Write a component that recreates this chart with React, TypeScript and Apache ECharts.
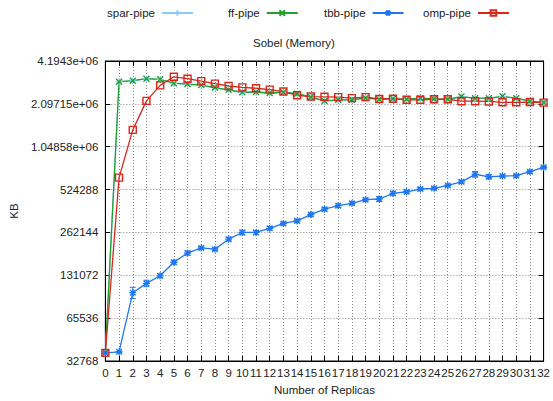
import React, { useEffect, useRef } from "react";
import * as echarts from "echarts";

const replicas = Array.from({ length: 33 }, (_, i) => String(i));

const sparPipe = [37400, 2990000, 3040000, 3140000, 3110000, 2920000, 2880000, 2830000, 2720000, 2620000, 2520000, 2530000, 2490000, 2520000, 2460000, 2330000, 2200000, 2230000, 2230000, 2300000, 2250000, 2270000, 2250000, 2290000, 2260000, 2250000, 2350000, 2290000, 2290000, 2360000, 2290000, 2180000, 2140000];
const ffPipe = [37400, 3000000, 3050000, 3150000, 3120000, 2930000, 2890000, 2840000, 2730000, 2630000, 2530000, 2540000, 2500000, 2530000, 2470000, 2340000, 2200000, 2240000, 2240000, 2310000, 2260000, 2280000, 2260000, 2300000, 2270000, 2260000, 2360000, 2300000, 2300000, 2370000, 2300000, 2190000, 2140000];
const tbbPipe = [37400, 38000, 98900, 115000, 130000, 161800, 187800, 204000, 200000, 235000, 262000, 262000, 280000, 303000, 316000, 350000, 382000, 404000, 420000, 445000, 450000, 493000, 506000, 529000, 535000, 561000, 594000, 671000, 645000, 652000, 656000, 700000, 752000];
const tbbErr = [300, 400, 9000, 6000, 4000, 5000, 6000, 5000, 4000, 7000, 10000, 8000, 8000, 7000, 7000, 9000, 10000, 12000, 10000, 10000, 18000, 14000, 10000, 12000, 10000, 12000, 16000, 30000, 22000, 12000, 14000, 16000, 14000];
const ompPipe = [37400, 636000, 1376000, 2200000, 2830000, 3250000, 3150000, 3030000, 2910000, 2800000, 2740000, 2700000, 2640000, 2560000, 2410000, 2360000, 2350000, 2340000, 2300000, 2340000, 2270000, 2280000, 2240000, 2240000, 2260000, 2260000, 2190000, 2190000, 2180000, 2150000, 2150000, 2160000, 2140000];

const seriesNames = ["spar-pipe", "ff-pipe", "tbb-pipe", "omp-pipe"];

const yTickLabels: Record<number, string> = {
  32768: "32768",
  65536: "65536",
  131072: "131072",
  262144: "262144",
  524288: "524288",
  1048576: "1.04858e+06",
  2097152: "2.09715e+06",
  4194304: "4.1943e+06",
};

const FONT = "Liberation Sans, Arial, sans-serif";
const plusPath = "path://M0,5L10,5M5,0L5,10";
const xPath = "path://M0,0L10,10M10,0L0,10";
const starPath = "path://M0,5L10,5M5,0L5,10M1,1L9,9M9,1L1,9";

export default function App() {
  const ref = useRef<HTMLDivElement>(null);
  useEffect(() => {
    if (!ref.current) return;
    const chart = echarts.init(ref.current, undefined, { renderer: "svg" });
    const gridLine = { show: true, lineStyle: { color: "#888", type: [1, 2] as any, width: 1 } };
    const errData = tbbPipe.map((v, i) => [i, v - tbbErr[i], v + tbbErr[i]]);
    const legendLefts = [107, 228, 324, 423];
    chart.setOption({
      animation: false,
      textStyle: { fontFamily: FONT },
      title: {
        text: "Sobel (Memory)",
        left: 253,
        top: 37,
        padding: 0,
        textStyle: { fontSize: 11.5, fontWeight: "normal", color: "#222", fontFamily: FONT },
      },
      legend: seriesNames.map((n, i) => ({
        top: 7,
        left: legendLefts[i],
        align: "right",
        padding: 0,
        itemWidth: 31,
        itemHeight: 7,
        textStyle: { fontSize: 11.5, color: "#222", fontFamily: FONT, padding: [0, 2, 0, 0] },
        data: [n],
      })),
      grid: { left: 105, right: 5, top: 61, bottom: 40, show: true, borderColor: "#000", borderWidth: 1 },
      xAxis: [
        {
          type: "category",
          data: replicas,
          boundaryGap: false,
          name: "Number of Replicas",
          nameLocation: "middle",
          nameGap: 23,
          nameTextStyle: { fontSize: 11.5, color: "#222" },
          axisLine: { lineStyle: { color: "#000" } },
          axisTick: { inside: true, length: 5, interval: 0, lineStyle: { color: "#000" } },
          axisLabel: { interval: 0, fontSize: 11.5, color: "#222", margin: 6 },
          splitLine: { ...gridLine, interval: 0 },
        },
        {
          type: "category",
          data: replicas,
          boundaryGap: false,
          position: "top",
          axisLine: { lineStyle: { color: "#000" } },
          axisTick: { inside: true, length: 5, interval: 0, lineStyle: { color: "#000" } },
          axisLabel: { show: false },
          splitLine: { show: false },
        },
      ],
      yAxis: [
        {
          type: "log",
          logBase: 2,
          min: 32768,
          max: 4194304,
          interval: 1,
          name: "KB",
          nameLocation: "middle",
          nameGap: 85,
          nameTextStyle: { fontSize: 11.5, color: "#222" },
          axisLine: { show: true, lineStyle: { color: "#000" } },
          axisTick: { show: true, inside: true, length: 5, lineStyle: { color: "#000" } },
          axisLabel: {
            fontSize: 11.5,
            color: "#222",
            margin: 7,
            formatter: (v: number) => yTickLabels[Math.round(v)] ?? String(Math.round(v)),
          },
          splitLine: gridLine,
        },
        {
          type: "log",
          logBase: 2,
          min: 32768,
          max: 4194304,
          interval: 1,
          position: "right",
          axisLine: { show: true, lineStyle: { color: "#000" } },
          axisTick: { show: true, inside: true, length: 5, lineStyle: { color: "#000" } },
          axisLabel: { show: false },
          splitLine: { show: false },
        },
      ],
      series: [
        {
          name: "spar-pipe",
          type: "line",
          data: sparPipe,
          symbol: plusPath,
          symbolSize: 7,
          lineStyle: { color: "#8ecbf5", width: 1.3 },
          itemStyle: { color: "none", borderColor: "#8ecbf5", borderWidth: 1.2 },
        },
        {
          name: "ff-pipe",
          type: "line",
          data: ffPipe,
          symbol: xPath,
          symbolSize: 6,
          lineStyle: { color: "#1fa12e", width: 1.3 },
          itemStyle: { color: "none", borderColor: "#1fa12e", borderWidth: 1.4 },
        },
        {
          name: "tbb-pipe",
          type: "line",
          data: tbbPipe,
          symbol: starPath,
          symbolSize: 7,
          lineStyle: { color: "#1f77f0", width: 1.3 },
          itemStyle: { color: "none", borderColor: "#1f77f0", borderWidth: 1.3 },
        },
        {
          name: "tbb-err",
          type: "custom",
          data: errData,
          renderItem: (params: any, api: any) => {
            const x = api.value(0);
            const lo = api.coord([x, api.value(1)]);
            const hi = api.coord([x, api.value(2)]);
            return {
              type: "group",
              children: [
                { type: "line", shape: { x1: lo[0], y1: lo[1], x2: hi[0], y2: hi[1] }, style: { stroke: "#1f77f0", lineWidth: 1 } },
                { type: "line", shape: { x1: lo[0] - 3, y1: lo[1], x2: lo[0] + 3, y2: lo[1] }, style: { stroke: "#1f77f0", lineWidth: 1 } },
                { type: "line", shape: { x1: hi[0] - 3, y1: hi[1], x2: hi[0] + 3, y2: hi[1] }, style: { stroke: "#1f77f0", lineWidth: 1 } },
              ],
            };
          },
        },
        {
          name: "omp-pipe",
          type: "line",
          data: ompPipe,
          symbol: "rect",
          symbolSize: 7,
          lineStyle: { color: "#d8261a", width: 1.3 },
          itemStyle: { color: "rgba(255,255,255,0)", borderColor: "#d8261a", borderWidth: 1.4 },
        },
      ],
    });
    return () => chart.dispose();
  }, []);
  return <div ref={ref} style={{ width: 553, height: 401, position: "absolute", left: 0, top: 0, background: "#fff" }} />;
}
